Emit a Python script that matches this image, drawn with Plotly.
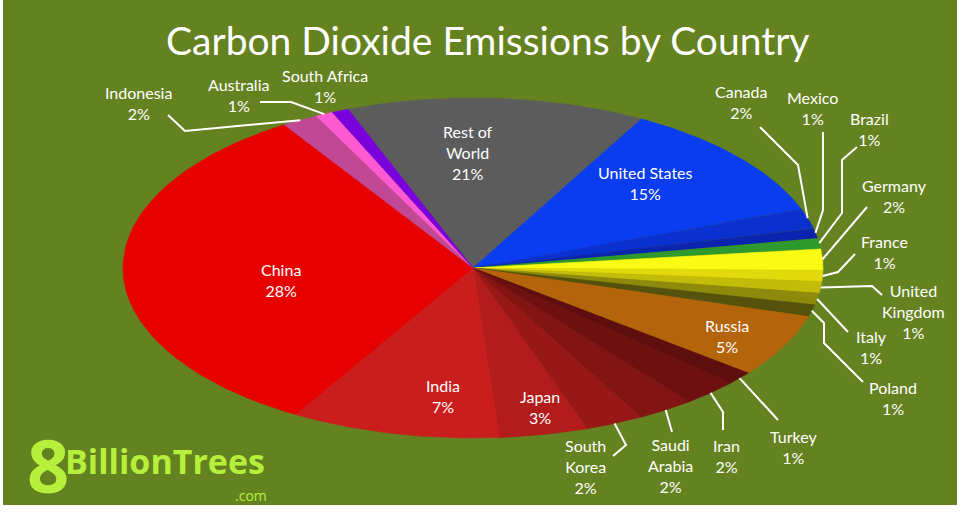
import numpy as np
import plotly.graph_objects as go

# ---------------- data ----------------
countries = ["Rest of World", "United States", "Canada", "Mexico", "Brazil",
             "Germany", "France", "United Kingdom", "Italy", "Poland",
             "Russia", "Turkey", "Iran", "Saudi Arabia", "South Korea",
             "Japan", "India", "China", "Indonesia", "Australia", "South Africa"]
shares = [21, 15, 2, 1, 1, 2, 1, 1, 1, 1, 5, 1, 2, 2, 2, 3, 7, 28, 2, 1, 1]
label_names = ["Rest of<br>World", "United States", "Canada", "Mexico", "Brazil",
               "Germany", "France", "United<br>Kingdom", "Italy", "Poland",
               "Russia", "Turkey", "Iran", "Saudi<br>Arabia", "South<br>Korea",
               "Japan", "India", "China", "Indonesia", "Australia", "South Africa"]
title_text = "Carbon Dioxide Emissions by Country"

# ---------------- style ----------------
slice_colors = ["#5c5c5c", "#0a3cf0", "#0a30cf", "#0a24b0", "#2e9a2e",
                "#fafa14", "#e2da0c", "#c4bc0a", "#8e8a0c", "#54520c",
                "#b4640a", "#5e0e0e", "#6e1010", "#821414", "#981818",
                "#b21c1c", "#ca1e1e", "#e60000", "#c04894", "#ff5ad2", "#7a00dc"]
BG = "#64821f"
FONT = "Lato"
W, H = 968, 520
CX, CY, RX, RY = 473, 268, 350, 170      # ellipse (tilted pie) placement in px
START_DEG, WARP, WARP_PHASE = 128.6, 22.0, -15.0   # rotation + tilt warp

def px2x(px):
    return (px - CX) / RX

def py2y(py):
    return (CY - py) / RY

def disp_angle(phi_deg):
    phi_deg = np.asarray(phi_deg, dtype=float)
    return np.radians(phi_deg + WARP * np.cos(np.radians(phi_deg - WARP_PHASE)))

label_pos = {
    "Rest of World": (468, 152), "United States": (645, 183), "Canada": (741, 102),
    "Mexico": (812, 108), "Brazil": (869, 129), "Germany": (894, 196),
    "France": (884, 252), "United Kingdom": (913, 311), "Italy": (871, 347),
    "Poland": (893, 398), "Russia": (727, 336), "Turkey": (793, 447),
    "Iran": (726, 456), "Saudi Arabia": (670, 465), "South Korea": (585, 466),
    "Japan": (540, 407), "India": (443, 396), "China": (281, 280),
    "Indonesia": (138, 103), "Australia": (238, 95), "South Africa": (325, 86),
}
leader_paths = {
    "Indonesia": [(168, 115), (185, 131)],
    "Australia": [(260, 102), (291, 102)],
    "Canada": [(760, 127), (798, 165)],
    "Mexico": [(823, 132), (823, 210)],
    "Brazil": [(857, 147), (842, 160), (842, 213)],
    "Germany": [(867, 207)],
    "France": [(855, 254), (838, 272)],
    "United Kingdom": [(882, 295), (872, 286)],
    "Italy": [(848, 332)],
    "Poland": [(863, 382), (824, 343), (824, 323)],
    "Turkey": [(778, 420)],
    "Iran": [(723, 430), (723, 412)],
    "Saudi Arabia": [(672, 432)],
    "South Korea": [(613, 456), (626, 445)],
}

fig = go.Figure()

total = float(sum(shares))
cum = np.concatenate([[0.0], np.cumsum(shares)]) / total * 360.0

for i, name in enumerate(countries):
    phis = START_DEG - np.linspace(cum[i], cum[i + 1], 80)
    t = disp_angle(phis)
    xs = np.concatenate([[0.0], np.cos(t), [0.0]])
    ys = np.concatenate([[0.0], np.sin(t), [0.0]])
    fig.add_trace(go.Scatter(
        x=xs, y=ys, mode="lines", fill="toself",
        fillcolor=slice_colors[i], line=dict(color=slice_colors[i], width=0.6),
        name=name, text=f"{name}: {shares[i]}%", hoverinfo="text",
        hoveron="fills", showlegend=False))

for i, name in enumerate(countries):
    if name in leader_paths:
        mid = START_DEG - (cum[i] + cum[i + 1]) / 2.0
        t = disp_angle(mid)
        pts = leader_paths[name]
        xs = [px2x(p[0]) for p in pts] + [float(np.cos(t))]
        ys = [py2y(p[1]) for p in pts] + [float(np.sin(t))]
        fig.add_trace(go.Scatter(x=xs, y=ys, mode="lines",
                                 line=dict(color="white", width=2),
                                 hoverinfo="skip", showlegend=False))

annotations = []
for i, name in enumerate(countries):
    lx, ly = label_pos[name]
    annotations.append(dict(
        x=px2x(lx), y=py2y(ly), xref="x", yref="y",
        text=f"{label_names[i]}<br>{shares[i]}%", showarrow=False,
        font=dict(family=FONT, size=16, color="white"),
        align="center", xanchor="center", yanchor="middle"))

annotations.append(dict(
    x=px2x(487), y=py2y(40), xref="x", yref="y", text=title_text,
    showarrow=False, font=dict(family=FONT, size=39, color="white"),
    xanchor="center", yanchor="middle"))

# logo
LIME = "#b6f03c"
annotations.append(dict(x=px2x(48), y=py2y(464), xref="x", yref="y", text="<b>8</b>",
                        showarrow=False, font=dict(family="Open Sans", size=74, color=LIME),
                        xanchor="center", yanchor="middle"))
annotations.append(dict(x=px2x(63), y=py2y(461), xref="x", yref="y", text="<b>BillionTrees</b>",
                        showarrow=False, font=dict(family="Open Sans", size=34, color=LIME),
                        xanchor="left", yanchor="middle"))
annotations.append(dict(x=px2x(269), y=py2y(495), xref="x", yref="y", text=".com",
                        showarrow=False, font=dict(family="Open Sans", size=14, color=LIME),
                        xanchor="right", yanchor="middle"))

fig.update_layout(
    width=W, height=H,
    margin=dict(l=0, r=0, t=0, b=0),
    paper_bgcolor="white", plot_bgcolor="rgba(0,0,0,0)",
    xaxis=dict(range=[px2x(0), px2x(W)], visible=False, fixedrange=True),
    yaxis=dict(range=[py2y(H), py2y(0)], visible=False, fixedrange=True),
    shapes=[dict(type="rect", xref="paper", yref="paper", layer="below",
                 x0=3 / W, x1=957 / W, y0=1 - 505 / H, y1=1.0,
                 fillcolor=BG, line=dict(width=0))],
    annotations=annotations,
    showlegend=False,
)

fig.write_html("out.html", config={"displayModeBar": False},
               post_script="document.body.style.margin='0';document.body.style.overflow='hidden';")
